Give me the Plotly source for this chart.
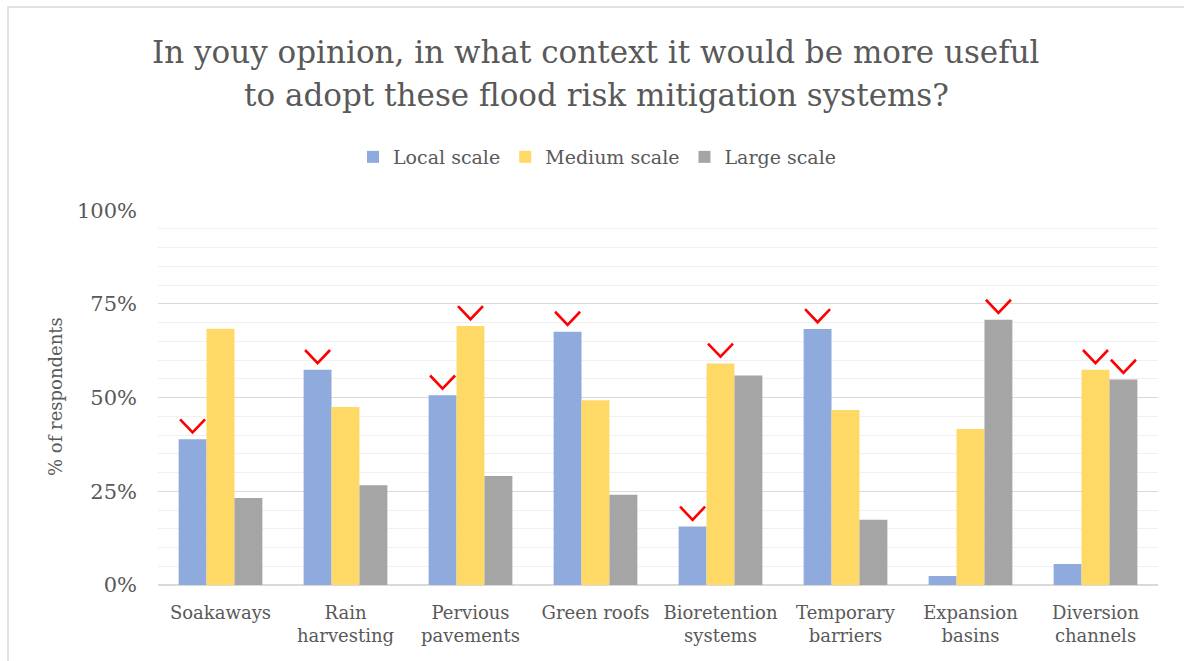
import plotly.graph_objects as go

categories = ["Soakaways", "Rain<br>harvesting", "Pervious<br>pavements", "Green roofs",
              "Bioretention<br>systems", "Temporary<br>barriers", "Expansion<br>basins", "Diversion<br>channels"]
series_names = ["Local scale", "Medium scale", "Large scale"]
local_scale = [0.389, 0.574, 0.506, 0.676, 0.156, 0.683, 0.024, 0.056]
medium_scale = [0.684, 0.475, 0.691, 0.493, 0.591, 0.467, 0.416, 0.574]
large_scale = [0.232, 0.266, 0.291, 0.241, 0.559, 0.174, 0.708, 0.548]
# (category index, series index) of the ticked bars
checks = [(0, 0), (1, 0), (2, 0), (2, 1), (3, 0), (4, 0), (4, 1), (5, 0), (6, 2), (7, 1), (7, 2)]

colors = ["#8FAADC", "#FFD966", "#A5A5A5"]
font_family = "DejaVu Serif"
text_color = "#595959"

W, H = 1184, 661
L, R, T, B = 158, 26, 210, 76
bargap = 0.33

fig = go.Figure()
values = [local_scale, medium_scale, large_scale]
for name, vals, col in zip(series_names, values, colors):
    fig.add_trace(go.Bar(x=categories, y=vals, name=name, marker_color=col,
                         marker_line_width=0, hoverinfo="skip"))

# check marks, positioned on a numeric overlay axis matching category slots
bw = (1 - bargap) / 3
cx, cy = [], []
for ci, si in checks:
    xc = ci + (si - 1) * bw
    v = values[si][ci]
    cx += [xc - 0.1, xc, xc + 0.1, None]
    cy += [v + 0.053, v + 0.018, v + 0.053, None]
fig.add_trace(go.Scatter(x=cx, y=cy, xaxis="x2", mode="lines",
                         line=dict(color="#FF0000", width=2.6), showlegend=False,
                         hoverinfo="skip"))

fig.update_layout(
    width=W, height=H,
    margin=dict(l=L, r=R, t=T, b=B),
    paper_bgcolor="white", plot_bgcolor="white",
    barmode="group", bargap=bargap, bargroupgap=0,
    font=dict(family=font_family, color=text_color),
    showlegend=True,
    legend=dict(orientation="h", x=(597 - L) / 1000, xanchor="center",
                y=(585 - 157) / 375, yanchor="middle",
                font=dict(size=19, color=text_color), itemwidth=30, traceorder="normal"),
    xaxis=dict(type="category", range=[-0.5, 7.5], showgrid=False, zeroline=False,
               showline=False, ticks="", ticklabelstandoff=15,
               tickfont=dict(size=18, color=text_color)),
    xaxis2=dict(overlaying="x", anchor="y", range=[-0.5, 7.5], visible=False),
    yaxis=dict(range=[0, 1.0005], tickvals=[0, 0.25, 0.5, 0.75, 1.0],
               ticktext=["0%", "25%", "50%", "75%", "100%"],
               showgrid=True, gridcolor="#D9D9D9", gridwidth=1.3,
               zeroline=True, zerolinecolor="#D9D9D9", zerolinewidth=1.5,
               minor=dict(dtick=0.05, showgrid=True, gridcolor="#F0F0F0", gridwidth=1),
               ticks="", ticklabelstandoff=20,
               tickfont=dict(size=21, color=text_color)),
    shapes=[dict(type="rect", xref="paper", yref="paper",
                 x0=(8 - L) / 1000, x1=(1200 - L) / 1000,
                 y0=(585 - 680) / 375, y1=(585 - 7) / 375,
                 line=dict(color="#D9D9D9", width=1.5), layer="below")],
    annotations=[
        dict(text="In youy opinion, in what context it would be more useful", xref="paper", yref="paper",
             x=(596 - L) / 1000, y=(585 - 52) / 375, xanchor="center", yanchor="middle",
             showarrow=False, font=dict(size=31, color=text_color)),
        dict(text="to adopt these flood risk mitigation systems?", xref="paper", yref="paper",
             x=(596 - L) / 1000, y=(585 - 95) / 375, xanchor="center", yanchor="middle",
             showarrow=False, font=dict(size=31, color=text_color)),
        dict(text="% of respondents", xref="paper", yref="paper",
             x=(55 - L) / 1000, y=(585 - 397) / 375, xanchor="center", yanchor="middle",
             textangle=-90, showarrow=False, font=dict(size=18, color=text_color)),
    ],
)

fig.write_html("out.html")
